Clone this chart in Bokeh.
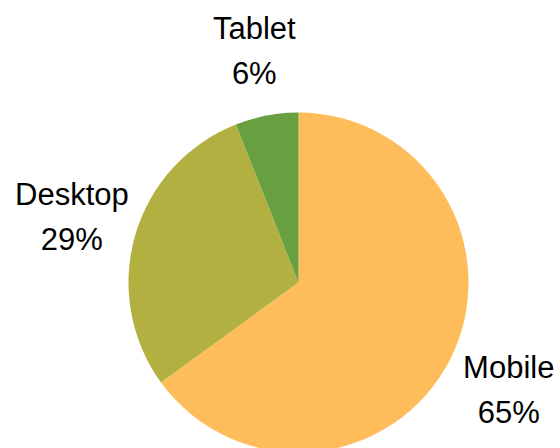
import math
from bokeh.plotting import figure
from bokeh.models import ColumnDataSource, Range1d
from bokeh.core.properties import value
from bokeh.embed import file_html
from bokeh.resources import INLINE

categories = ["Mobile", "Desktop", "Tablet"]
shares = [65, 29, 6]
colors = ["#FFBC5A", "#B2B041", "#679F41"]

R = 170
LABEL_R = 236

total = sum(shares)
starts, ends, lx, ly, names, pcts = [], [], [], [], [], []
acc = 0.0
for cat, s in zip(categories, shares):
    a0 = math.pi / 2 - 2 * math.pi * acc / total
    acc += s
    a1 = math.pi / 2 - 2 * math.pi * acc / total
    starts.append(a0)
    ends.append(a1)
    mid = (a0 + a1) / 2
    lx.append(LABEL_R * math.cos(mid))
    ly.append(LABEL_R * math.sin(mid))
    names.append(cat)
    pcts.append(f"{s}%")

src = ColumnDataSource(dict(start=starts, end=ends, color=colors, lx=lx, ly=ly,
                            name=names, pct=pcts))

p = figure(width=560, height=448, output_backend="svg", toolbar_location=None,
           x_range=Range1d(-298, 262), y_range=Range1d(-166, 282),
           min_border=0, border_fill_color="white", background_fill_color="white")
p.axis.visible = False
p.grid.visible = False
p.outline_line_color = None

p.wedge(x=0, y=0, radius=R, start_angle="start", end_angle="end", direction="clock",
        fill_color="color", line_color=None, source=src)
common = dict(source=src, text_align="center", text_baseline="middle",
              text_font=value("Liberation Sans"), text_font_size="31px", text_color="black")
p.text(x="lx", y="ly", text="name", y_offset=-22.5, **common)
p.text(x="lx", y="ly", text="pct", y_offset=22.5, **common)

open("out.html", "w").write(file_html(p, INLINE))
